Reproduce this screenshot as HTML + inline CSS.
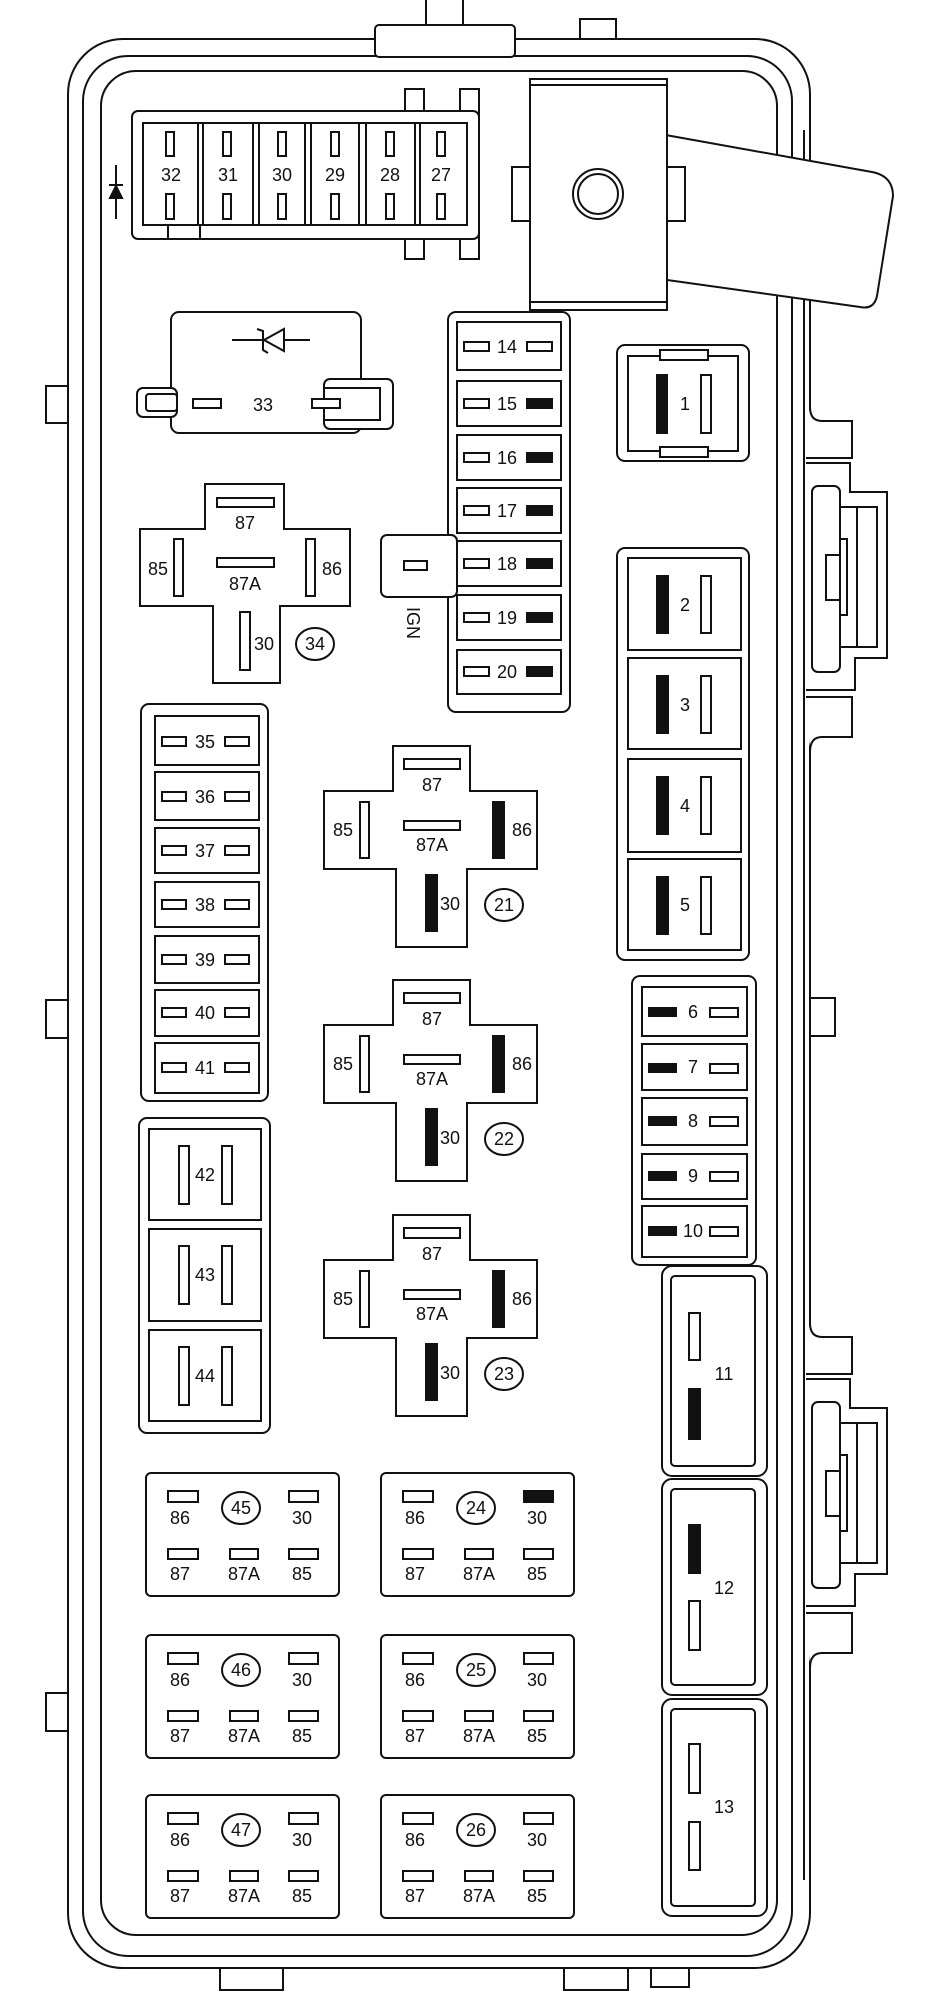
<!DOCTYPE html>
<html><head><meta charset="utf-8"><style>
html,body{margin:0;padding:0;background:#fff;}
svg{display:block;}
text{font-family:"Liberation Sans",sans-serif;font-size:18px;fill:#111;text-anchor:middle;}
</style></head><body>
<svg width="927" height="2003" viewBox="0 0 927 2003" xmlns="http://www.w3.org/2000/svg" fill="#fff" stroke="#111" stroke-width="2">
<!-- cable & tabs -->
<line x1="426" y1="0" x2="426" y2="26"/><line x1="463" y1="0" x2="463" y2="26"/>
<rect x="580" y="19" width="36" height="20"/>
<rect x="46" y="386" width="22" height="37"/><rect x="46" y="1000" width="22" height="38"/><rect x="46" y="1693" width="22" height="38"/>
<rect x="220" y="1958" width="63" height="32"/><rect x="564" y="1958" width="64" height="32"/><rect x="651" y="1962" width="38" height="25"/>
<rect x="805" y="998" width="30" height="38"/>
<!-- frame -->
<rect x="68" y="39" width="742" height="1929" rx="55"/>
<rect x="83" y="56" width="709" height="1900" rx="45"/>
<rect x="101" y="71" width="676" height="1864" rx="35"/>
<line x1="804" y1="130" x2="804" y2="1880"/>
<rect x="375" y="25" width="140" height="32" rx="4"/>
<!-- right bumps -->
<g>
<rect x="806" y="410" width="6" height="330" stroke="none"/>
<path d="M810,407 Q810,421 822,421 H852 V458 H806"/>
<path d="M806,463 H850 V492 H887 V658 H855 V690 H806"/>
<path d="M806,697 H852 V737 H822 Q810,737 810,752"/>
<rect x="812" y="486" width="28" height="186" rx="6"/>
<rect x="840" y="507" width="37" height="140"/><line x1="857" y1="507" x2="857" y2="647"/>
<rect x="826" y="555" width="14" height="45"/><rect x="840" y="539" width="7" height="76"/>
</g>
<g transform="translate(0,916)">
<rect x="806" y="410" width="6" height="330" stroke="none"/>
<path d="M810,407 Q810,421 822,421 H852 V458 H806"/>
<path d="M806,463 H850 V492 H887 V658 H855 V690 H806"/>
<path d="M806,697 H852 V737 H822 Q810,737 810,752"/>
<rect x="812" y="486" width="28" height="186" rx="6"/>
<rect x="840" y="507" width="37" height="140"/><line x1="857" y1="507" x2="857" y2="647"/>
<rect x="826" y="555" width="14" height="45"/><rect x="840" y="539" width="7" height="76"/>
</g>
<!-- top-left fuse block 27-32 -->
<rect x="405" y="89" width="19" height="170"/><rect x="460" y="89" width="19" height="170"/>
<rect x="132" y="111" width="347" height="128" rx="6"/>
<rect x="143" y="123" width="324" height="102"/>
<rect x="168" y="225" width="32" height="14"/>
<g>
<rect x="143" y="123" width="55" height="102"/><rect x="203" y="123" width="50" height="102"/><rect x="259" y="123" width="46" height="102"/>
<rect x="311" y="123" width="48" height="102"/><rect x="366" y="123" width="49" height="102"/><rect x="420" y="123" width="47" height="102"/>
<rect x="166" y="132" width="8" height="24"/><rect x="166" y="194" width="8" height="25"/>
<rect x="223" y="132" width="8" height="24"/><rect x="223" y="194" width="8" height="25"/>
<rect x="278" y="132" width="8" height="24"/><rect x="278" y="194" width="8" height="25"/>
<rect x="331" y="132" width="8" height="24"/><rect x="331" y="194" width="8" height="25"/>
<rect x="386" y="132" width="8" height="24"/><rect x="386" y="194" width="8" height="25"/>
<rect x="437" y="132" width="8" height="24"/><rect x="437" y="194" width="8" height="25"/>
</g>
<g stroke="none"><text x="171" y="181">32</text><text x="228" y="181">31</text><text x="282" y="181">30</text><text x="335" y="181">29</text><text x="390" y="181">28</text><text x="441" y="181">27</text></g>
<line x1="116" y1="165" x2="116" y2="219"/><line x1="109" y1="185" x2="123" y2="185"/>
<path d="M110,198 L122,198 L116,186 Z" fill="#111"/>
<!-- big relay with lever -->
<path d="M660,134 L872,172 Q893,176 893,196 L877,296 Q874,310 860,307 L660,279 Z"/>
<rect x="512" y="167" width="18" height="54"/><rect x="667" y="167" width="18" height="54"/>
<rect x="530" y="79" width="137" height="231"/><line x1="530" y1="302" x2="667" y2="302"/><line x1="530" y1="85" x2="667" y2="85"/>
<circle cx="598" cy="194" r="25"/><circle cx="598" cy="194" r="20"/>
<!-- relay 33 -->
<rect x="171" y="312" width="190" height="121" rx="8"/>
<rect x="137" y="388" width="40" height="29" rx="6"/><rect x="146" y="394" width="31" height="17" rx="3"/>
<rect x="324" y="379" width="69" height="50" rx="6"/><rect x="324" y="388" width="56" height="32"/>
<rect x="193" y="399" width="28" height="9"/><rect x="312" y="399" width="28" height="9"/>
<text x="263" y="411" stroke="none">33</text>
<line x1="232" y1="340" x2="310" y2="340"/><path d="M284,329 V351 L264,340 Z"/><path d="M257,329 L263,331 V350 L268,353"/>
<!-- strip 14-20 -->
<rect x="448" y="312" width="122" height="400" rx="8"/>
<rect x="381" y="535" width="76" height="62" rx="6"/>
<rect x="404" y="561" width="23" height="9"/>
<text x="0" y="0" stroke="none" transform="translate(407,623) rotate(90)">IGN</text>
<g>
<rect x="457" y="322" width="104" height="48"/><rect x="457" y="381" width="104" height="45"/><rect x="457" y="435" width="104" height="45"/>
<rect x="457" y="488" width="104" height="45"/><rect x="457" y="541" width="104" height="45"/><rect x="457" y="595" width="104" height="45"/><rect x="457" y="650" width="104" height="44"/>
<rect x="464" y="342" width="25" height="9"/><rect x="527" y="342" width="25" height="9"/>
<rect x="464" y="399" width="25" height="9"/><rect x="527" y="399" width="25" height="9" fill="#111"/>
<rect x="464" y="453" width="25" height="9"/><rect x="527" y="453" width="25" height="9" fill="#111"/>
<rect x="464" y="506" width="25" height="9"/><rect x="527" y="506" width="25" height="9" fill="#111"/>
<rect x="464" y="559" width="25" height="9"/><rect x="527" y="559" width="25" height="9" fill="#111"/>
<rect x="464" y="613" width="25" height="9"/><rect x="527" y="613" width="25" height="9" fill="#111"/>
<rect x="464" y="667" width="25" height="9"/><rect x="527" y="667" width="25" height="9" fill="#111"/>
</g>
<g stroke="none"><text x="507" y="353">14</text><text x="507" y="410">15</text><text x="507" y="464">16</text><text x="507" y="517">17</text><text x="507" y="570">18</text><text x="507" y="624">19</text><text x="507" y="678">20</text></g>
<!-- fuse 1 -->
<rect x="617" y="345" width="132" height="116" rx="8"/>
<rect x="628" y="356" width="110" height="95"/>
<rect x="660" y="350" width="48" height="10"/><rect x="660" y="447" width="48" height="10"/>
<rect x="657" y="375" width="10" height="58" fill="#111"/><rect x="701" y="375" width="10" height="58"/>
<text x="685" y="410" stroke="none">1</text>
<!-- fuses 2-5 -->
<rect x="617" y="548" width="132" height="412" rx="8"/>
<g>
<rect x="628" y="558" width="113" height="92"/><rect x="628" y="658" width="113" height="91"/><rect x="628" y="759" width="113" height="93"/><rect x="628" y="859" width="113" height="91"/>
<rect x="657" y="576" width="11" height="57" fill="#111"/><rect x="701" y="576" width="10" height="57"/>
<rect x="657" y="676" width="11" height="57" fill="#111"/><rect x="701" y="676" width="10" height="57"/>
<rect x="657" y="777" width="11" height="57" fill="#111"/><rect x="701" y="777" width="10" height="57"/>
<rect x="657" y="877" width="11" height="57" fill="#111"/><rect x="701" y="877" width="10" height="57"/>
</g>
<g stroke="none"><text x="685" y="611">2</text><text x="685" y="711">3</text><text x="685" y="812">4</text><text x="685" y="911">5</text></g>
<!-- fuses 6-10 -->
<rect x="632" y="976" width="124" height="289" rx="8"/>
<g>
<rect x="642" y="987" width="105" height="49"/><rect x="642" y="1044" width="105" height="46"/><rect x="642" y="1098" width="105" height="47"/><rect x="642" y="1154" width="105" height="45"/><rect x="642" y="1206" width="105" height="51"/>
<rect x="649" y="1008" width="27" height="8" fill="#111"/><rect x="710" y="1008" width="28" height="9"/>
<rect x="649" y="1064" width="27" height="8" fill="#111"/><rect x="710" y="1064" width="28" height="9"/>
<rect x="649" y="1117" width="27" height="8" fill="#111"/><rect x="710" y="1117" width="28" height="9"/>
<rect x="649" y="1172" width="27" height="8" fill="#111"/><rect x="710" y="1172" width="28" height="9"/>
<rect x="649" y="1227" width="27" height="8" fill="#111"/><rect x="710" y="1227" width="28" height="9"/>
</g>
<g stroke="none"><text x="693" y="1018">6</text><text x="693" y="1073">7</text><text x="693" y="1127">8</text><text x="693" y="1182">9</text><text x="693" y="1237">10</text></g>
<!-- fuses 11-13 -->
<rect x="662" y="1266" width="105" height="210" rx="10"/><rect x="671" y="1276" width="84" height="190" rx="4"/>
<rect x="662" y="1479" width="105" height="216" rx="10"/><rect x="671" y="1489" width="84" height="196" rx="4"/>
<rect x="662" y="1699" width="105" height="217" rx="10"/><rect x="671" y="1709" width="84" height="197" rx="4"/>
<rect x="689" y="1313" width="11" height="47"/><rect x="689" y="1389" width="11" height="50" fill="#111"/>
<rect x="689" y="1525" width="11" height="48" fill="#111"/><rect x="689" y="1601" width="11" height="49"/>
<rect x="689" y="1744" width="11" height="49"/><rect x="689" y="1822" width="11" height="48"/>
<g stroke="none"><text x="724" y="1380">11</text><text x="724" y="1594">12</text><text x="724" y="1813">13</text></g>
<!-- relay 34 -->
<path d="M205,484 H284 V529 H350 V606 H280 V683 H213 V606 H140 V529 H205 Z"/>
<rect x="217" y="498" width="57" height="9"/><rect x="217" y="558" width="57" height="9"/>
<rect x="174" y="539" width="9" height="57"/><rect x="306" y="539" width="9" height="57"/><rect x="240" y="612" width="10" height="58"/>
<ellipse cx="315" cy="644" rx="19" ry="16"/>
<g stroke="none"><text x="245" y="529">87</text><text x="245" y="590">87A</text><text x="158" y="575">85</text><text x="332" y="575">86</text><text x="264" y="650">30</text><text x="315" y="650">34</text></g>
<!-- relays 21,22,23 -->
<g id="r21">
<path d="M393,746 H470 V791 H537 V869 H467 V947 H396 V869 H324 V791 H393 Z"/>
<rect x="404" y="759" width="56" height="10"/><rect x="404" y="821" width="56" height="9"/>
<rect x="360" y="802" width="9" height="56"/><rect x="493" y="802" width="11" height="56" fill="#111"/><rect x="426" y="875" width="11" height="56" fill="#111"/>
<ellipse cx="504" cy="905" rx="19" ry="16"/>
<g stroke="none"><text x="432" y="791">87</text><text x="432" y="851">87A</text><text x="343" y="836">85</text><text x="522" y="836">86</text><text x="450" y="910">30</text><text x="504" y="911">21</text></g>
</g>
<g transform="translate(0,234)">
<path d="M393,746 H470 V791 H537 V869 H467 V947 H396 V869 H324 V791 H393 Z"/>
<rect x="404" y="759" width="56" height="10"/><rect x="404" y="821" width="56" height="9"/>
<rect x="360" y="802" width="9" height="56"/><rect x="493" y="802" width="11" height="56" fill="#111"/><rect x="426" y="875" width="11" height="56" fill="#111"/>
<ellipse cx="504" cy="905" rx="19" ry="16"/>
<g stroke="none"><text x="432" y="791">87</text><text x="432" y="851">87A</text><text x="343" y="836">85</text><text x="522" y="836">86</text><text x="450" y="910">30</text><text x="504" y="911">22</text></g>
</g>
<g transform="translate(0,469)">
<path d="M393,746 H470 V791 H537 V869 H467 V947 H396 V869 H324 V791 H393 Z"/>
<rect x="404" y="759" width="56" height="10"/><rect x="404" y="821" width="56" height="9"/>
<rect x="360" y="802" width="9" height="56"/><rect x="493" y="802" width="11" height="56" fill="#111"/><rect x="426" y="875" width="11" height="56" fill="#111"/>
<ellipse cx="504" cy="905" rx="19" ry="16"/>
<g stroke="none"><text x="432" y="791">87</text><text x="432" y="851">87A</text><text x="343" y="836">85</text><text x="522" y="836">86</text><text x="450" y="910">30</text><text x="504" y="911">23</text></g>
</g>
<!-- fuses 35-41 -->
<rect x="141" y="704" width="127" height="397" rx="8"/>
<g>
<rect x="155" y="716" width="104" height="49"/><rect x="155" y="772" width="104" height="48"/><rect x="155" y="828" width="104" height="45"/><rect x="155" y="882" width="104" height="45"/>
<rect x="155" y="936" width="104" height="47"/><rect x="155" y="990" width="104" height="46"/><rect x="155" y="1043" width="104" height="50"/>
<rect x="162" y="737" width="24" height="9"/><rect x="225" y="737" width="24" height="9"/>
<rect x="162" y="792" width="24" height="9"/><rect x="225" y="792" width="24" height="9"/>
<rect x="162" y="846" width="24" height="9"/><rect x="225" y="846" width="24" height="9"/>
<rect x="162" y="900" width="24" height="9"/><rect x="225" y="900" width="24" height="9"/>
<rect x="162" y="955" width="24" height="9"/><rect x="225" y="955" width="24" height="9"/>
<rect x="162" y="1008" width="24" height="9"/><rect x="225" y="1008" width="24" height="9"/>
<rect x="162" y="1063" width="24" height="9"/><rect x="225" y="1063" width="24" height="9"/>
</g>
<g stroke="none"><text x="205" y="748">35</text><text x="205" y="803">36</text><text x="205" y="857">37</text><text x="205" y="911">38</text><text x="205" y="966">39</text><text x="205" y="1019">40</text><text x="205" y="1074">41</text></g>
<!-- fuses 42-44 -->
<rect x="139" y="1118" width="131" height="315" rx="8"/>
<g>
<rect x="149" y="1129" width="112" height="91"/><rect x="149" y="1229" width="112" height="92"/><rect x="149" y="1330" width="112" height="91"/>
<rect x="179" y="1146" width="10" height="58"/><rect x="222" y="1146" width="10" height="58"/>
<rect x="179" y="1246" width="10" height="58"/><rect x="222" y="1246" width="10" height="58"/>
<rect x="179" y="1347" width="10" height="58"/><rect x="222" y="1347" width="10" height="58"/>
</g>
<g stroke="none"><text x="205" y="1181">42</text><text x="205" y="1281">43</text><text x="205" y="1382">44</text></g>
<!-- small relays -->
<g id="sr">
<rect x="146" y="1473" width="193" height="123" rx="5"/>
<rect x="168" y="1491" width="30" height="11"/><rect x="289" y="1491" width="29" height="11"/>
<ellipse cx="241" cy="1508" rx="19" ry="16"/>
<rect x="168" y="1549" width="30" height="10"/><rect x="230" y="1549" width="28" height="10"/><rect x="289" y="1549" width="29" height="10"/>
<g stroke="none"><text x="180" y="1524">86</text><text x="302" y="1524">30</text><text x="241" y="1514">45</text><text x="180" y="1580">87</text><text x="244" y="1580">87A</text><text x="302" y="1580">85</text></g>
</g>
<g transform="translate(235,0)">
<rect x="146" y="1473" width="193" height="123" rx="5"/>
<rect x="168" y="1491" width="30" height="11"/><rect x="289" y="1491" width="29" height="11" fill="#111"/>
<ellipse cx="241" cy="1508" rx="19" ry="16"/>
<rect x="168" y="1549" width="30" height="10"/><rect x="230" y="1549" width="28" height="10"/><rect x="289" y="1549" width="29" height="10"/>
<g stroke="none"><text x="180" y="1524">86</text><text x="302" y="1524">30</text><text x="241" y="1514">24</text><text x="180" y="1580">87</text><text x="244" y="1580">87A</text><text x="302" y="1580">85</text></g>
</g>
<g transform="translate(0,162)">
<rect x="146" y="1473" width="193" height="123" rx="5"/>
<rect x="168" y="1491" width="30" height="11"/><rect x="289" y="1491" width="29" height="11"/>
<ellipse cx="241" cy="1508" rx="19" ry="16"/>
<rect x="168" y="1549" width="30" height="10"/><rect x="230" y="1549" width="28" height="10"/><rect x="289" y="1549" width="29" height="10"/>
<g stroke="none"><text x="180" y="1524">86</text><text x="302" y="1524">30</text><text x="241" y="1514">46</text><text x="180" y="1580">87</text><text x="244" y="1580">87A</text><text x="302" y="1580">85</text></g>
</g>
<g transform="translate(235,162)">
<rect x="146" y="1473" width="193" height="123" rx="5"/>
<rect x="168" y="1491" width="30" height="11"/><rect x="289" y="1491" width="29" height="11"/>
<ellipse cx="241" cy="1508" rx="19" ry="16"/>
<rect x="168" y="1549" width="30" height="10"/><rect x="230" y="1549" width="28" height="10"/><rect x="289" y="1549" width="29" height="10"/>
<g stroke="none"><text x="180" y="1524">86</text><text x="302" y="1524">30</text><text x="241" y="1514">25</text><text x="180" y="1580">87</text><text x="244" y="1580">87A</text><text x="302" y="1580">85</text></g>
</g>
<g transform="translate(0,322)">
<rect x="146" y="1473" width="193" height="123" rx="5"/>
<rect x="168" y="1491" width="30" height="11"/><rect x="289" y="1491" width="29" height="11"/>
<ellipse cx="241" cy="1508" rx="19" ry="16"/>
<rect x="168" y="1549" width="30" height="10"/><rect x="230" y="1549" width="28" height="10"/><rect x="289" y="1549" width="29" height="10"/>
<g stroke="none"><text x="180" y="1524">86</text><text x="302" y="1524">30</text><text x="241" y="1514">47</text><text x="180" y="1580">87</text><text x="244" y="1580">87A</text><text x="302" y="1580">85</text></g>
</g>
<g transform="translate(235,322)">
<rect x="146" y="1473" width="193" height="123" rx="5"/>
<rect x="168" y="1491" width="30" height="11"/><rect x="289" y="1491" width="29" height="11"/>
<ellipse cx="241" cy="1508" rx="19" ry="16"/>
<rect x="168" y="1549" width="30" height="10"/><rect x="230" y="1549" width="28" height="10"/><rect x="289" y="1549" width="29" height="10"/>
<g stroke="none"><text x="180" y="1524">86</text><text x="302" y="1524">30</text><text x="241" y="1514">26</text><text x="180" y="1580">87</text><text x="244" y="1580">87A</text><text x="302" y="1580">85</text></g>
</g>
</svg>
</body></html>
